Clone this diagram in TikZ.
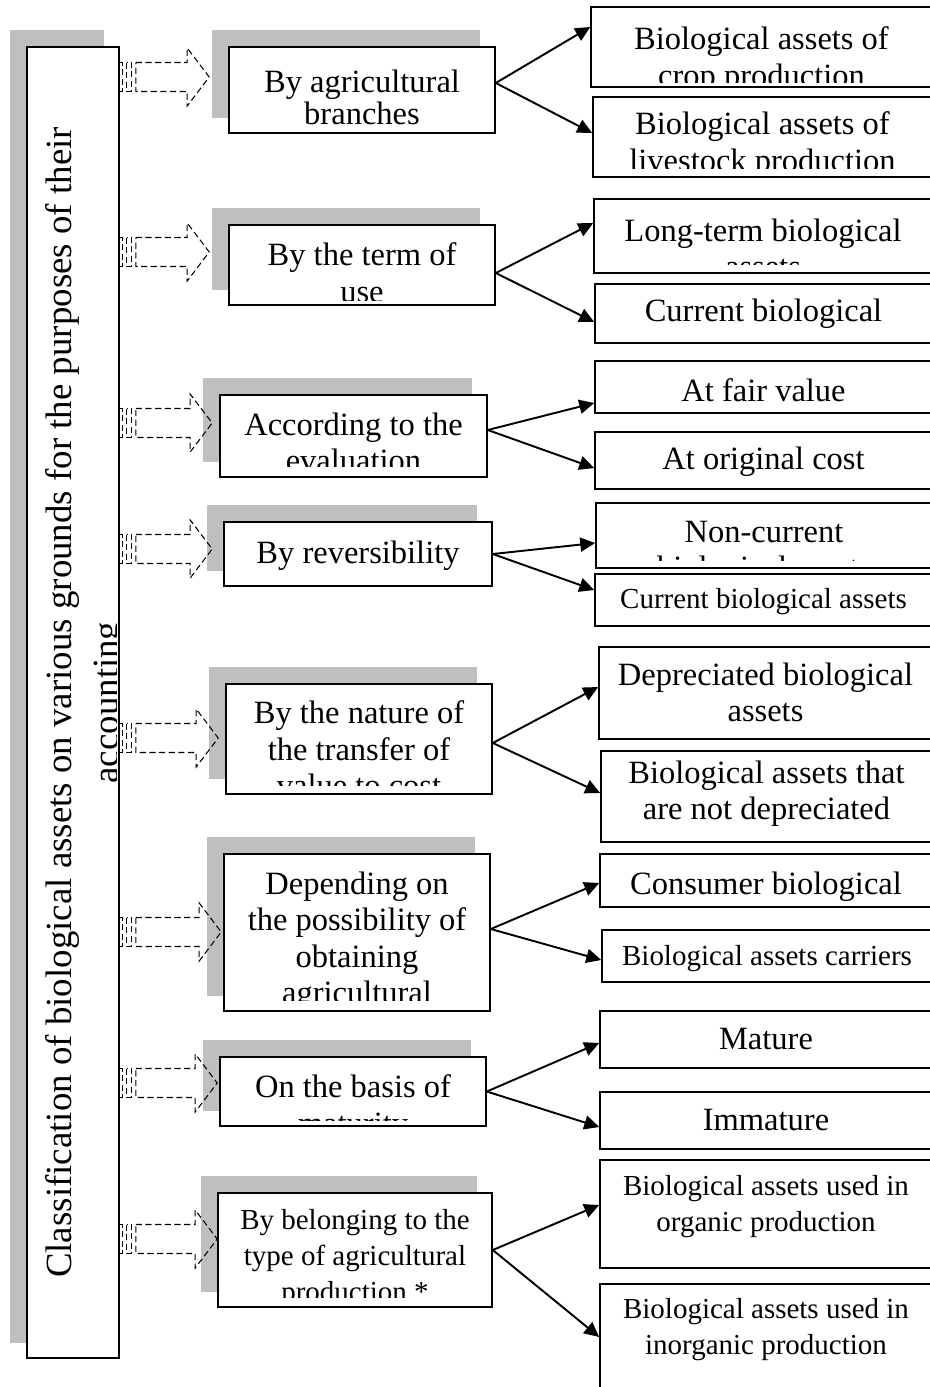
\documentclass[tikz,border=0pt]{standalone}
\usepackage{fontspec}
\setmainfont{Liberation Serif}
\usepackage{xcolor}
\usepackage{tikz}
\usetikzlibrary{calc,arrows.meta,backgrounds}
\definecolor{ink}{HTML}{000000}
\definecolor{lift}{HTML}{BFBFBF}
\newcommand{\bigsize}{\fontsize{18.5}{20.8}\selectfont}
\newcommand{\smallsize}{\fontsize{16.5}{20.5}\selectfont}
\newcommand{\mainsize}{\fontsize{21}{26.5}\selectfont}
\tikzset{
  box/.style={draw=ink, line width=0.9pt, fill=white, inner sep=0pt},
  sized/.style 2 args={minimum width=#1*0.02cm, minimum height=#2*0.02cm},
  words/.style={inner sep=0pt, minimum width=0pt, minimum height=0pt,
    align=center, text=ink, anchor=north, path picture={}},
  says/.style n args={4}{path picture={
      \clip ([shift={(-5,0)}]path picture bounding box.north west)
        rectangle ([shift={(5,-#4)}]path picture bounding box.south east);
      \node[words, font=#2] at ([shift={(0,#3)}]path picture bounding box.north) {#1};}},
  hollow/.style={draw=ink, line width=0.6pt, dash pattern=on 3.5pt off 2pt},
  link/.style={draw=ink, line width=1.1pt, -{Triangle[length=8.5pt,width=8pt]}}
}

\begin{document}
\begin{tikzpicture}[x=0.02cm, y=-0.02cm]
  \useasboundingbox (0,0) rectangle (930,1387);

  % the long vertical box on the left
  \node[box, sized={92}{1311}, path picture={
      \clip (path picture bounding box.north west)
        rectangle ([shift={(-3,0)}]path picture bounding box.south east);
      \node[words, font=\mainsize, rotate=90] at ([shift={(18,0)}]path picture bounding box.west)
        {Classification of biological assets on various grounds for the purposes of their\\accounting};
    }] (main) at (73,702.5) {};

  % grounds
  \node[box, sized={266}{86}, says={By agricultural\\[-2.5pt]branches}{\bigsize}{22}{0}] (basis1) at (362,90) {};
  \node[box, sized={266}{80}, says={By the term of\\use}{\bigsize}{17}{5}] (basis2) at (362,265) {};
  \node[box, sized={267}{82}, says={According to the\\evaluation}{\bigsize}{17}{11}] (basis3) at (353.5,436) {};
  \node[box, sized={268}{64}, says={By reversibility}{\bigsize}{18}{0}] (basis4) at (358,554) {};
  \node[box, sized={266}{110}, says={By the nature of\\the transfer of\\value to cost}{\bigsize}{16}{9}] (basis5) at (359,739) {};
  \node[box, sized={266}{157}, says={Depending on\\the possibility of\\obtaining\\agricultural}{\bigsize}{17}{11}] (basis6) at (357,932.5) {};
  \node[box, sized={266}{69}, says={On the basis of\\maturity}{\bigsize}{17}{6}] (basis7) at (353,1091.5) {};
  \node[box, sized={274}{114}, says={By belonging to the\\type of agricultural\\production *}{\smallsize}{16}{10}] (basis8) at (355,1250) {};

  % kinds of assets
  \node[box, sized={341}{80}, says={Biological assets of\\crop production}{\bigsize}{19}{5}] (sortA1) at (761.5,47) {};
  \node[box, sized={339}{80}, says={Biological assets of\\livestock production}{\bigsize}{14}{9}] (sortB1) at (762.5,137) {};
  \node[box, sized={338}{74}, says={Long-term biological\\assets}{\bigsize}{19}{9}] (sortA2) at (763,236) {};
  \node[box, sized={337}{59}, says={Current biological}{\bigsize}{14}{0}] (sortB2) at (763.5,313.5) {};
  \node[box, sized={337}{52}, says={At fair value}{\bigsize}{17}{0}] (sortA3) at (763.5,387) {};
  \node[box, sized={337}{57}, says={At original cost}{\bigsize}{14}{0}] (sortB3) at (763.5,460.5) {};
  \node[box, sized={336}{65}, says={Non-current\\biological assets}{\bigsize}{17}{8}] (sortA4) at (764,535.5) {};
  \node[box, sized={337}{52}, says={Current biological assets}{\smallsize}{14}{0}] (sortB4) at (763.5,600) {};
  \node[box, sized={333}{92}, says={Depreciated biological\\assets}{\bigsize}{15}{0}] (sortA5) at (765.5,693) {};
  \node[box, sized={331}{91}, says={Biological assets that\\are not depreciated}{\bigsize}{9}{0}] (sortB5) at (766.5,796.5) {};
  \node[box, sized={332}{53}, says={Consumer biological}{\bigsize}{17}{0}] (sortA6) at (766,880.5) {};
  \node[box, sized={330}{52}, says={Biological assets carriers}{\smallsize}{15}{0}] (sortB6) at (767,956) {};
  \node[box, sized={332}{57}, says={Mature}{\bigsize}{16}{0}] (sortA7) at (766,1039.5) {};
  \node[box, sized={332}{57}, says={Immature}{\bigsize}{16}{0}] (sortB7) at (766,1120.5) {};
  \node[box, sized={332}{108}, says={Biological assets used in\\organic production}{\smallsize}{15}{0}] (sortA8) at (766,1214) {};
  \node[box, sized={332}{111}, says={Biological assets used in\\inorganic production}{\smallsize}{14}{0}] (sortB8) at (766,1339.5) {};

  % grey shadows behind the left boxes
  \begin{pgfonlayer}{background}
    \foreach \n in {main,basis1,basis2,basis3,basis4,basis5,basis6,basis7,basis8}
      \fill[lift] ([shift={(-16,-16)}]\n.south west) rectangle ([shift={(-16,-16)}]\n.north east);
  \end{pgfonlayer}

  % striped hollow arrows
  \foreach \i/\dx/\dy in {1/-19/-13, 2/-19/-13, 3/-7/-13, 4/-11/-5, 5/-7/-1, 6/-2/-0.5, 7/-2/-8.5, 8/0/-11} {
    \coordinate (tip\i) at ([shift={(\dx,\dy)}]basis\i.west);
    \coordinate (tail\i) at (main.east |- tip\i);
    \draw[hollow] ([shift={(0,-14.5)}]tail\i) rectangle ([shift={(3,14.5)}]tail\i);
    \draw[hollow] ([shift={(7,-14.5)}]tail\i) rectangle ([shift={(12,14.5)}]tail\i);
    \draw[hollow] ([shift={(16,-14.5)}]tail\i) -- ([shift={(-22,-14.5)}]tip\i)
      -- ([shift={(-22,-29)}]tip\i) -- (tip\i) -- ([shift={(-22,29)}]tip\i)
      -- ([shift={(-22,14.5)}]tip\i) -- ([shift={(16,14.5)}]tail\i) -- cycle;
  }

  % forks to the kinds
  \foreach \i/\o/\a/\b in {1/-7/-20/-4, 2/8/-13/8.5, 3/-6/16/7.5, 4/0/7.5/-10, 5/4/-6/-3.5, 6/-3.5/2.5/4, 7/0/3.5/6.5, 8/0/-9/-2.5} {
    \draw[link] ([shift={(0,\o)}]basis\i.east) -- ([shift={(0,\a)}]sortA\i.west);
    \draw[link] ([shift={(0,\o)}]basis\i.east) -- ([shift={(0,\b)}]sortB\i.west);
  }
\end{tikzpicture}
\end{document}
